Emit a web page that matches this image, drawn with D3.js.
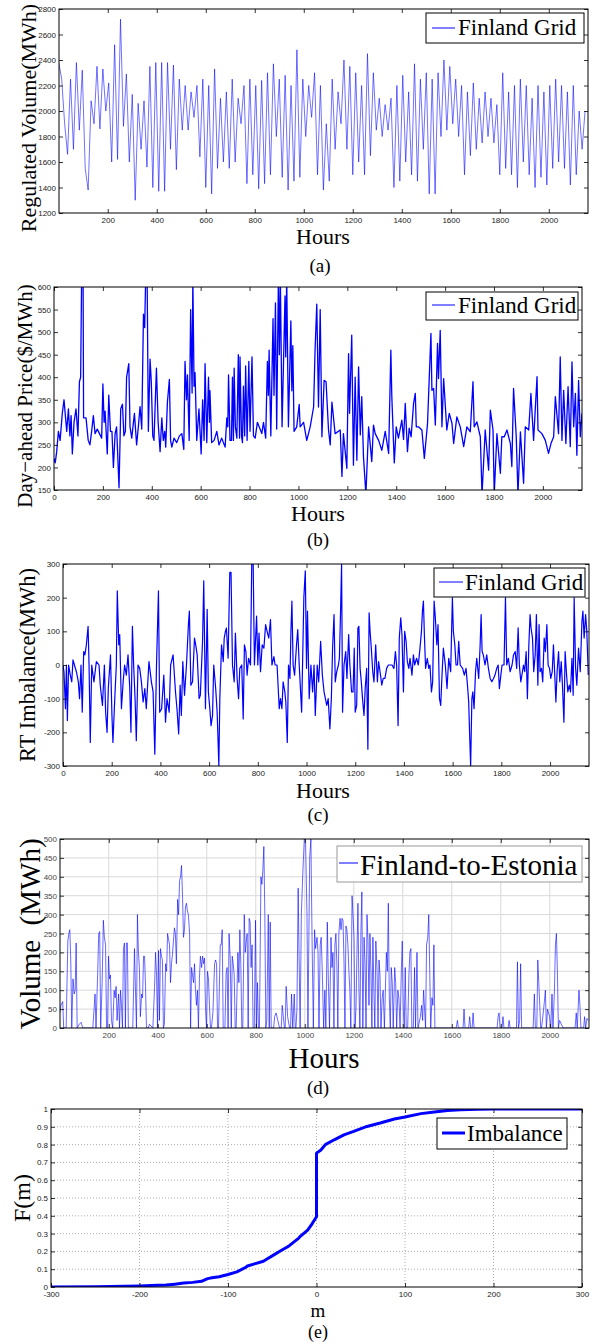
<!DOCTYPE html>
<html>
<head>
<meta charset="utf-8">
<script src="https://cdn.jsdelivr.net/npm/d3@7"></script>
<style>
  body { margin: 0; background: #fff; }
  svg { display: block; }
</style>
</head>
<body>
<svg id="fig" width="600" height="1342"></svg>
<script>
// ---------------- data ----------------
// (a) regulated volume, one reading every 12 hours starting at hour 0
const volumeStepHours = 12;
const regulatedVolume = [
  2380,2250,1900,1660,2250,1700,2380,1850,2320,1550,
  1380,2080,1900,2350,1860,2330,2000,2220,1600,2520,
  1620,2720,1880,2290,1600,2130,1300,2060,1700,2080,
  1560,2350,1400,2380,1370,2380,1370,2380,1700,2360,
  1540,2250,1850,2200,1850,2150,1950,2200,1640,2250,
  1400,2200,1350,2330,1550,2100,1600,2150,1550,2250,
  1600,2100,1900,2200,1430,2250,1500,2200,1390,2240,
  1430,2300,1500,2370,1800,2250,1480,2280,1380,2200,
  1450,2480,1480,2250,1800,2200,1950,2300,1500,2200,
  1380,1900,1450,2250,1700,2150,1900,2400,1700,2350,
  1500,2300,1600,2200,1500,2450,1650,2300,1850,2100,
  1800,2050,1850,2100,1400,2200,1450,2280,1600,2150,
  1500,2370,1450,2250,1700,2300,1350,2250,1350,2300,
  1800,2400,1850,2350,1900,2250,1800,2200,1500,2150,
  1650,2220,1700,2100,1750,2150,1800,2100,1750,2050,
  1500,2300,1550,2150,1500,2200,1400,2250,1600,2200,
  1500,2100,1400,2200,1480,2150,1420,2200,1550,2250,
  1600,2200,1550,2150,1420,2200,1500,2000,1700,2000
];

// (b) day-ahead price, [hour, $/MWh]
const dayAheadPrice = [
  [0,220],[5,210],[11,235],[18,280],[25,260],[34,320],[41,350],[52,280],[59,330],[65,270],
  [70,315],[75,230],[82,300],[90,330],[98,270],[104,390],[109,400],[113,620],[119,620],[121,310],
  [131,310],[140,260],[147,250],[154,280],[161,315],[168,275],[177,285],[186,275],[195,265],[200,385],
  [205,300],[209,325],[218,230],[224,360],[231,280],[237,280],[243,200],[250,275],[256,290],[266,155],
  [273,330],[280,340],[286,270],[292,280],[297,400],[306,430],[311,290],[318,265],[329,320],[338,250],
  [345,290],[352,335],[359,285],[366,540],[371,510],[375,620],[381,620],[386,280],[393,440],[398,390],
  [404,270],[409,260],[419,420],[426,300],[434,235],[441,310],[447,260],[453,280],[457,245],[464,345],
  [472,395],[477,260],[482,245],[491,265],[502,255],[513,270],[523,275],[531,240],[536,435],[542,350],
  [546,405],[553,260],[559,550],[565,365],[568,620],[573,380],[577,410],[584,260],[593,330],[602,230],
  [608,350],[614,260],[618,430],[625,255],[632,400],[636,300],[638,370],[645,255],[655,260],[666,280],
  [675,250],[686,265],[700,245],[707,310],[711,290],[714,405],[720,260],[726,260],[730,400],[734,260],
  [737,420],[742,290],[748,265],[754,450],[759,265],[761,445],[767,270],[771,255],[775,380],[780,270],
  [784,425],[790,260],[797,435],[802,280],[810,445],[816,270],[823,265],[832,300],[843,285],[850,275],
  [857,300],[866,265],[873,435],[877,360],[880,460],[887,270],[896,530],[900,360],[906,565],[911,285],
  [918,620],[922,450],[926,620],[933,290],[945,580],[948,445],[952,620],[959,290],[969,525],[973,370],
  [977,470],[982,280],[993,290],[1003,340],[1007,290],[1021,300],[1034,260],[1048,290],[1062,334],[1068,460],
  [1075,562],[1082,334],[1089,550],[1096,268],[1105,393],[1113,390],[1123,283],[1130,250],[1137,345],[1150,275],
  [1171,283],[1178,180],[1184,275],[1198,198],[1205,452],[1209,320],[1218,493],[1225,205],[1232,400],[1239,216],
  [1246,423],[1253,272],[1259,357],[1266,224],[1276,140],[1287,290],[1300,213],[1307,294],[1314,275],[1328,260],
  [1341,238],[1355,280],[1369,231],[1378,460],[1382,357],[1392,210],[1400,290],[1409,265],[1423,305],[1430,262],
  [1437,342],[1446,235],[1453,287],[1461,268],[1471,342],[1478,364],[1482,290],[1491,290],[1505,283],[1515,220],
  [1528,297],[1542,497],[1546,371],[1553,375],[1560,294],[1569,475],[1573,397],[1580,504],[1587,290],[1594,397],
  [1607,283],[1617,320],[1628,298],[1635,253],[1648,312],[1662,290],[1676,246],[1689,290],[1703,279],[1714,390],
  [1719,290],[1730,301],[1744,268],[1751,140],[1764,283],[1778,194],[1785,327],[1796,283],[1801,140],[1812,275],
  [1826,187],[1832,268],[1842,268],[1853,283],[1867,253],[1873,202],[1880,375],[1891,268],[1898,140],[1908,279],
  [1921,165],[1928,290],[1942,283],[1951,364],[1962,260],[1976,401],[1980,283],[1996,275],[2010,260],[2023,231],
  [2033,253],[2044,268],[2051,357],[2064,275],[2071,445],[2078,260],[2085,371],[2094,253],[2103,379],[2112,246],
  [2119,434],[2126,290],[2133,364],[2139,227],[2146,393],[2153,268],[2160,320]
];

// (c) real-time imbalance, [hour, MWh]
const rtImbalance = [
  [0,0],[4,-20],[10,-130],[14,0],[18,-165],[23,0],[30,-30],[36,-50],[41,15],[47,0],
  [55,-20],[63,-50],[68,-100],[74,0],[79,-140],[85,40],[90,30],[96,60],[103,115],[107,0],
  [112,-230],[118,0],[127,-50],[137,10],[148,0],[153,-60],[162,-120],[170,0],[175,-140],[181,-200],
  [186,-70],[195,30],[201,-150],[205,-230],[212,-110],[219,0],[223,220],[229,60],[233,90],[240,-130],
  [247,-50],[253,0],[260,-30],[267,30],[274,-65],[279,-200],[285,115],[290,0],[296,-100],[301,-225],
  [308,0],[315,-10],[322,-50],[329,-110],[336,-70],[342,-130],[353,10],[363,-50],[370,-80],[377,-265],
  [384,0],[392,220],[397,-140],[405,-130],[414,-30],[421,-170],[427,-100],[436,-140],[442,0],[452,30],
  [462,-80],[468,-130],[475,-205],[481,-60],[486,-150],[492,10],[499,-90],[507,0],[515,120],[519,160],
  [525,-60],[532,-50],[540,80],[545,60],[551,30],[559,-100],[564,-90],[573,70],[578,250],[585,-130],
  [592,165],[597,-80],[603,-130],[608,-180],[614,-150],[619,0],[627,-70],[633,-140],[640,-300],[644,-100],
  [651,60],[658,10],[662,80],[667,100],[671,110],[678,20],[685,275],[690,275],[696,0],[703,-50],
  [708,95],[715,-40],[721,-100],[726,-10],[734,0],[740,-160],[745,60],[751,40],[756,-30],[762,20],
  [770,0],[775,300],[781,300],[786,0],[795,145],[800,0],[805,95],[811,-20],[818,60],[825,50],
  [832,120],[838,100],[845,80],[852,135],[858,0],[866,25],[871,0],[879,0],[888,-130],[893,-100],
  [899,-130],[904,-50],[911,-80],[915,-110],[921,-230],[926,0],[932,-40],[936,100],[940,190],[945,0],
  [951,-30],[959,60],[964,105],[970,0],[980,-140],[989,200],[995,280],[1000,-10],[1004,160],[1011,-100],
  [1018,0],[1025,-80],[1031,0],[1036,-150],[1044,0],[1050,-50],[1058,70],[1065,-30],[1072,-80],[1083,-120],
  [1089,-100],[1096,-190],[1102,-100],[1107,50],[1113,150],[1118,-50],[1124,-20],[1131,0],[1135,20],[1140,165],
  [1144,300],[1148,-140],[1154,0],[1161,40],[1166,-40],[1173,90],[1178,0],[1185,-80],[1191,-80],[1196,50],
  [1200,-140],[1206,-120],[1211,110],[1215,115],[1220,-10],[1225,-50],[1230,-100],[1236,-150],[1241,-70],[1247,-10],
  [1252,-250],[1257,155],[1261,100],[1266,50],[1272,-20],[1277,-50],[1284,60],[1291,-50],[1296,10],[1302,-20],
  [1309,-60],[1315,-40],[1322,-40],[1329,-10],[1336,0],[1351,0],[1359,-10],[1365,40],[1370,0],[1376,-180],
  [1381,80],[1387,140],[1392,90],[1398,-80],[1403,100],[1409,70],[1414,10],[1420,-10],[1425,20],[1433,-30],
  [1439,30],[1444,0],[1452,20],[1459,0],[1466,50],[1472,100],[1476,160],[1480,190],[1484,90],[1489,-10],
  [1496,20],[1502,-10],[1507,0],[1513,-80],[1518,-50],[1524,190],[1529,140],[1535,60],[1540,120],[1546,-100],
  [1551,-120],[1557,-20],[1562,50],[1570,0],[1577,-70],[1584,20],[1592,-20],[1599,200],[1603,100],[1609,60],
  [1614,0],[1620,0],[1625,70],[1631,0],[1641,-10],[1648,-30],[1655,-10],[1661,-60],[1666,-110],[1670,-210],
  [1674,-300],[1679,-100],[1683,-80],[1688,-130],[1694,-20],[1699,20],[1707,-40],[1713,60],[1717,150],[1721,40],
  [1726,30],[1733,0],[1740,30],[1747,-10],[1754,-40],[1761,-50],[1768,-40],[1774,-30],[1781,-10],[1787,0],
  [1792,-70],[1798,-30],[1803,0],[1811,0],[1817,200],[1822,0],[1829,20],[1836,-20],[1844,0],[1850,30],
  [1857,40],[1863,-10],[1869,110],[1874,0],[1880,-50],[1891,0],[1896,-20],[1902,40],[1907,-100],[1913,60],
  [1918,150],[1922,110],[1928,80],[1933,-20],[1939,30],[1944,150],[1950,-60],[1955,120],[1959,-20],[1965,-10],
  [1970,-50],[1976,80],[1981,40],[1987,120],[1992,0],[1998,-10],[2003,-40],[2009,-20],[2014,60],[2020,-40],
  [2024,-110],[2029,-20],[2035,40],[2040,-50],[2046,10],[2051,-60],[2057,-170],[2062,40],[2068,-30],[2073,-80],
  [2079,-60],[2084,-80],[2090,20],[2095,-90],[2099,200],[2105,-10],[2110,-60],[2117,50],[2124,-20],[2131,130],
  [2135,160],[2140,80],[2146,150],[2151,100],[2157,-30]
];

// (d) Finland-to-Estonia transfer volume, [hour, MWh]
const exportVolume = [
  [0,40],[5,60],[12,70],[16,0],[26,0],[33,230],[37,250],[41,260],[45,180],[49,0],
  [54,130],[59,90],[63,100],[67,225],[71,0],[80,10],[87,15],[94,0],[135,0],[139,40],
  [144,90],[148,0],[155,150],[159,250],[163,255],[167,0],[173,120],[178,285],[182,240],[187,220],
  [191,0],[195,0],[199,190],[203,130],[207,140],[211,20],[216,0],[222,100],[226,80],[230,110],
  [234,20],[240,90],[244,0],[248,100],[252,60],[256,0],[260,210],[264,225],[268,0],[272,225],
  [276,225],[280,0],[298,0],[305,210],[309,100],[313,0],[317,300],[321,200],[325,160],[329,30],
  [334,90],[338,80],[342,190],[346,190],[350,110],[354,0],[361,0],[366,10],[380,0],[387,110],
  [391,200],[395,140],[399,0],[403,205],[407,20],[411,210],[415,190],[419,180],[423,0],[427,10],
  [432,170],[436,150],[440,250],[444,235],[448,220],[452,120],[456,170],[460,195],[464,230],[468,265],
  [472,250],[476,170],[481,340],[485,300],[489,390],[493,400],[497,430],[501,350],[505,240],[509,260],
  [513,320],[517,330],[521,310],[525,300],[530,250],[534,0],[538,160],[542,140],[546,120],[550,170],
  [554,100],[558,60],[562,100],[566,0],[570,130],[574,190],[579,160],[583,190],[587,170],[591,185],
  [595,50],[599,0],[603,150],[607,130],[611,60],[615,0],[619,0],[625,40],[632,170],[636,180],
  [640,170],[644,0],[648,0],[655,220],[659,220],[663,260],[667,0],[674,0],[679,145],[683,160],
  [687,0],[691,250],[696,180],[700,0],[704,190],[708,170],[712,140],[716,0],[720,0],[727,200],
  [731,120],[735,260],[739,170],[743,0],[747,0],[753,300],[757,200],[761,230],[765,250],[769,0],
  [773,290],[777,280],[781,160],[785,220],[789,0],[794,0],[799,285],[803,0],[807,120],[811,0],
  [815,0],[821,400],[825,380],[829,420],[833,480],[837,300],[841,0],[845,20],[851,300],[855,0],
  [859,280],[863,0],[873,0],[877,30],[883,40],[890,20],[897,0],[904,0],[908,60],[917,0],[920,0],[924,110],[930,30],
  [938,0],[942,0],[946,90],[951,0],[957,90],[961,0],[964,0],[968,50],[973,370],[977,180],[981,0],[986,300],
  [992,410],[998,500],[1003,500],[1009,300],[1013,0],[1020,450],[1025,500],[1030,220],[1035,0],[1040,260],
  [1044,210],[1050,240],[1054,200],[1058,0],[1063,220],[1067,240],[1071,160],[1077,0],[1082,100],[1086,0],
  [1092,280],[1096,130],[1101,0],[1107,240],[1111,160],[1115,200],[1119,0],[1123,220],[1127,250],[1131,170],
  [1135,0],[1139,250],[1144,290],[1148,260],[1152,290],[1156,285],[1160,180],[1164,0],[1168,270],[1172,260],
  [1176,220],[1180,150],[1184,100],[1188,0],[1193,350],[1197,300],[1201,240],[1205,0],[1209,50],[1213,200],
  [1217,330],[1221,100],[1225,0],[1229,250],[1233,360],[1237,0],[1242,240],[1246,170],[1250,0],[1254,300],
  [1258,230],[1262,60],[1266,250],[1270,150],[1274,0],[1278,240],[1282,100],[1286,0],[1290,230],[1295,150],
  [1299,0],[1303,180],[1307,140],[1311,0],[1316,80],[1320,100],[1325,0],[1329,100],[1333,200],[1337,150],
  [1341,330],[1345,80],[1349,0],[1353,160],[1357,120],[1361,0],[1367,160],[1371,120],[1375,0],[1380,100],
  [1384,80],[1389,0],[1394,150],[1398,230],[1402,50],[1406,0],[1410,160],[1414,0],[1420,0],[1425,140],
  [1429,200],[1433,210],[1437,0],[1443,0],[1448,160],[1452,0],[1458,200],[1462,0],[1472,30],[1477,60],
  [1481,20],[1485,100],[1489,50],[1493,0],[1497,220],[1502,240],[1506,300],[1510,150],[1514,0],[1519,80],
  [1523,60],[1527,220],[1531,0],[1618,0],[1623,20],[1627,0],[1646,0],[1650,50],[1654,0],[1669,0],[1673,30],[1677,0],
  [1683,0],[1687,40],[1691,0],[1785,0],[1789,30],[1793,40],[1797,0],[1805,0],[1809,30],[1813,0],[1830,0],[1834,20],[1838,0],[1864,0],
  [1868,175],[1872,0],[1877,20],[1881,170],[1885,0],[1932,0],[1937,90],[1941,0],[1947,0],[1951,180],[1955,120],
  [1959,60],[1963,0],[1966,0],[1970,20],[1978,70],[1982,100],[1986,0],[1991,50],[1995,40],[1999,30],[2004,0],
  [2009,90],[2013,0],[2019,100],[2023,220],[2027,250],[2031,150],[2035,0],[2040,20],[2054,0],[2103,0],
  [2108,40],[2112,0],[2119,100],[2123,60],[2127,0],[2138,0],[2142,30],[2146,0],[2152,25],[2157,20]
];

// (e) empirical CDF of the imbalance
const cdfM = [-300,-250,-200,-180,-170,-160,-150,-140,-130,-123,-120,-110,-100,-90,-80,-78,-70,-60,-55,-50,
              -40,-33,-30,-20,-18,-10,-5,0,0,5,10,20,31,42,57,72,88,100,118,133,148,163,182,200,250,300];
const cdfF = [0,0.001,0.006,0.01,0.011,0.016,0.022,0.026,0.032,0.047,0.05,0.058,0.07,0.085,0.11,0.118,0.13,0.145,0.16,0.175,
              0.205,0.225,0.235,0.275,0.286,0.32,0.355,0.395,0.752,0.77,0.80,0.827,0.855,0.874,0.902,0.921,0.944,0.955,0.974,0.983,
              0.992,0.996,0.998,1,1,1];

// tick values
const hourTicks = [200,400,600,800,1000,1200,1400,1600,1800,2000];
const hourTicksWithZero = [0].concat(hourTicks);
const volumeTicks = [1200,1400,1600,1800,2000,2200,2400,2600,2800];
const priceTicks = [150,200,250,300,350,400,450,500,550,600];
const imbalanceTicks = [-300,-200,-100,0,100,200,300];
const exportTicks = [0,50,100,150,200,250,300,350,400,450,500];
const mTicks = [-300,-200,-100,0,100,200,300];
const fTicks = [0,0.1,0.2,0.3,0.4,0.5,0.6,0.7,0.8,0.9,1];

// ---------------- drawing ----------------
const SERIF = '"Liberation Serif", "Times New Roman", Times, serif';
const SANS = '"Liberation Sans", Arial, Helvetica, sans-serif';
const BLUE = '#0000ff';
const svg = d3.select('#fig');
const defs = svg.append('defs');

function drawPanel(p) {
  const b = p.box;
  const x = d3.scaleLinear().domain(p.xDomain).range([b.l, b.r]);
  const y = d3.scaleLinear().domain(p.yDomain).range([b.b, b.t]);
  const g = svg.append('g');

  defs.append('clipPath').attr('id', 'clip-' + p.name)
    .append('rect').attr('x', b.l).attr('y', b.t).attr('width', b.r - b.l).attr('height', b.b - b.t);

  // grid
  if (p.grid) {
    const gg = g.append('g').attr('stroke', p.grid.color).attr('stroke-width', p.grid.width)
      .attr('stroke-dasharray', p.grid.dash || null);
    gg.selectAll('line.v').data(p.xTicks.filter(v => x(v) > b.l + 1 && x(v) < b.r - 1)).join('line')
      .attr('x1', d => x(d)).attr('x2', d => x(d)).attr('y1', b.t).attr('y2', b.b);
    gg.selectAll('line.h').data(p.yTicks.filter(v => y(v) > b.t + 1 && y(v) < b.b - 1)).join('line')
      .attr('x1', b.l).attr('x2', b.r).attr('y1', d => y(d)).attr('y2', d => y(d));
  }

  // series
  g.append('path').datum(p.data)
    .attr('clip-path', 'url(#clip-' + p.name + ')')
    .attr('fill', 'none').attr('stroke', BLUE).attr('stroke-width', p.lineWidth)
    .attr('stroke-opacity', p.lineOpacity || 1)
    .attr('stroke-linejoin', 'round')
    .attr('d', d3.line().x(d => x(d[0])).y(d => y(d[1])));

  // axes with inward ticks on all four sides
  const tk = 4;
  const fmt = p.yFormat || (d => d);
  const styleText = sel => sel.selectAll('text')
    .attr('font-family', SANS).attr('font-size', p.tickFont || 8).attr('fill', p.tickColor || '#222');
  const ax = [
    g.append('g').attr('transform', `translate(0,${b.b})`)
      .call(d3.axisBottom(x).tickValues(p.xTicks).tickSizeInner(-tk).tickSizeOuter(0)
        .tickPadding(4).tickFormat(p.xFormat || (d => d))),
    g.append('g').attr('transform', `translate(0,${b.t})`)
      .call(d3.axisTop(x).tickValues(p.xTicks).tickSizeInner(-tk).tickSizeOuter(0).tickFormat('')),
    g.append('g').attr('transform', `translate(${b.l},0)`)
      .call(d3.axisLeft(y).tickValues(p.yTicks).tickSizeInner(-tk).tickSizeOuter(0).tickPadding(3).tickFormat(fmt)),
    g.append('g').attr('transform', `translate(${b.r},0)`)
      .call(d3.axisRight(y).tickValues(p.yTicks).tickSizeInner(-tk).tickSizeOuter(0).tickFormat(''))
  ];
  ax.forEach(a => {
    a.select('.domain').remove();
    a.selectAll('line').attr('stroke', '#000').attr('stroke-width', 0.8);
    styleText(a);
  });

  // frame
  g.append('rect').attr('x', b.l).attr('y', b.t).attr('width', b.r - b.l).attr('height', b.b - b.t)
    .attr('fill', 'none').attr('stroke', '#000').attr('stroke-width', 1);

  // legend
  const L = p.legend;
  g.append('rect').attr('x', L.x0).attr('y', L.y0).attr('width', L.x1 - L.x0).attr('height', L.y1 - L.y0)
    .attr('fill', '#fff').attr('stroke', L.border || '#000').attr('stroke-width', 1);
  g.append('line').attr('x1', L.lx0).attr('x2', L.lx1).attr('y1', L.ly).attr('y2', L.ly)
    .attr('stroke', BLUE).attr('stroke-width', L.lw || 1);
  g.append('text').attr('x', L.tx).attr('y', L.ty).text(L.label)
    .attr('font-family', SERIF).attr('font-size', L.size).attr('fill', '#000');

  // axis titles and caption
  g.append('text').attr('transform', `translate(${p.yTitle.x},${p.yTitle.y}) rotate(-90)`)
    .attr('text-anchor', 'middle').attr('font-family', SERIF).attr('font-size', p.yTitle.size)
    .style('white-space', 'pre').text(p.yTitle.text);
  g.append('text').attr('x', p.xTitle.x).attr('y', p.xTitle.y).attr('text-anchor', 'middle')
    .attr('font-family', SERIF).attr('font-size', p.xTitle.size).text(p.xTitle.text);
  g.append('text').attr('x', p.caption.x).attr('y', p.caption.y).attr('text-anchor', 'middle')
    .attr('font-family', SERIF).attr('font-size', p.caption.size).text(p.caption.text);
}

// (a)
drawPanel({
  name: 'a', box: { l: 59, r: 588, t: 9, b: 213 },
  xDomain: [1, 2160], yDomain: [1200, 2800],
  xTicks: hourTicks, yTicks: volumeTicks,
  data: regulatedVolume.map((v, i) => [i * volumeStepHours, v]),
  lineWidth: 0.7, lineOpacity: 0.8,
  legend: { x0: 426, x1: 584, y0: 13, y1: 43, lx0: 432, lx1: 455, ly: 28, tx: 458, ty: 35, size: 23, label: 'Finland Grid' },
  yTitle: { x: 36, y: 118, size: 22, text: 'Regulated Volume(MWh)' },
  xTitle: { x: 323, y: 244, size: 22, text: 'Hours' },
  caption: { x: 320, y: 272, size: 19, text: '(a)' }
});

// (b)
drawPanel({
  name: 'b', box: { l: 54, r: 582, t: 287, b: 490 },
  xDomain: [0, 2160], yDomain: [150, 600],
  xTicks: hourTicksWithZero, yTicks: priceTicks,
  data: dayAheadPrice,
  lineWidth: 1.3,
  legend: { x0: 426, x1: 578, y0: 292, y1: 320, lx0: 432, lx1: 455, ly: 305, tx: 458, ty: 313, size: 23, label: 'Finland Grid' },
  yTitle: { x: 32, y: 396, size: 21, text: 'Day\u2212ahead Price($/MWh)' },
  xTitle: { x: 318, y: 521, size: 22, text: 'Hours' },
  caption: { x: 318, y: 546, size: 19, text: '(b)' }
});

// (c)
drawPanel({
  name: 'c', box: { l: 63, r: 589, t: 564, b: 766 },
  xDomain: [0, 2160], yDomain: [-300, 300],
  xTicks: hourTicksWithZero, yTicks: imbalanceTicks,
  data: rtImbalance,
  lineWidth: 1.2,
  legend: { x0: 434, x1: 585, y0: 568, y1: 597, lx0: 439, lx1: 463, ly: 582, tx: 465, ty: 590, size: 23, label: 'Finland Grid' },
  yTitle: { x: 35, y: 665, size: 22.5, text: 'RT Imbalance(MWh)' },
  xTitle: { x: 323, y: 798, size: 22, text: 'Hours' },
  caption: { x: 318, y: 821, size: 19, text: '(c)' }
});

// (d)
drawPanel({
  name: 'd', box: { l: 60, r: 589, t: 839, b: 1028 },
  xDomain: [1, 2160], yDomain: [0, 500],
  xTicks: hourTicks, yTicks: exportTicks,
  data: exportVolume,
  lineWidth: 0.7, lineOpacity: 0.85,
  tickColor: '#444',
  grid: { color: '#d9d9d9', width: 1 },
  legend: { x0: 337, x1: 582, y0: 846, y1: 882, lx0: 339, lx1: 358, ly: 863, tx: 360, ty: 875, size: 29, label: 'Finland-to-Estonia', border: '#999' },
  yTitle: { x: 40, y: 934, size: 29, text: 'Volume  (MWh)' },
  xTitle: { x: 324, y: 1068, size: 29, text: 'Hours' },
  caption: { x: 318, y: 1094, size: 19, text: '(d)' }
});

// (e)
drawPanel({
  name: 'e', box: { l: 51, r: 582, t: 1109, b: 1287 },
  xDomain: [-300, 300], yDomain: [0, 1],
  xTicks: mTicks, yTicks: fTicks,
  yFormat: d => d3.format('~g')(d),
  data: cdfM.map((m, i) => [m, cdfF[i]]),
  lineWidth: 3,
  grid: { color: '#999', width: 0.8, dash: '1,2' },
  legend: { x0: 437, x1: 567, y0: 1118, y1: 1149, lx0: 442, lx1: 465, ly: 1133, tx: 467, ty: 1141, size: 23, label: 'Imbalance', lw: 3 },
  yTitle: { x: 30, y: 1198, size: 24, text: 'F(m)' },
  xTitle: { x: 318, y: 1317, size: 19, text: 'm' },
  caption: { x: 318, y: 1338, size: 18, text: '(e)' }
});
</script>
</body>
</html>
